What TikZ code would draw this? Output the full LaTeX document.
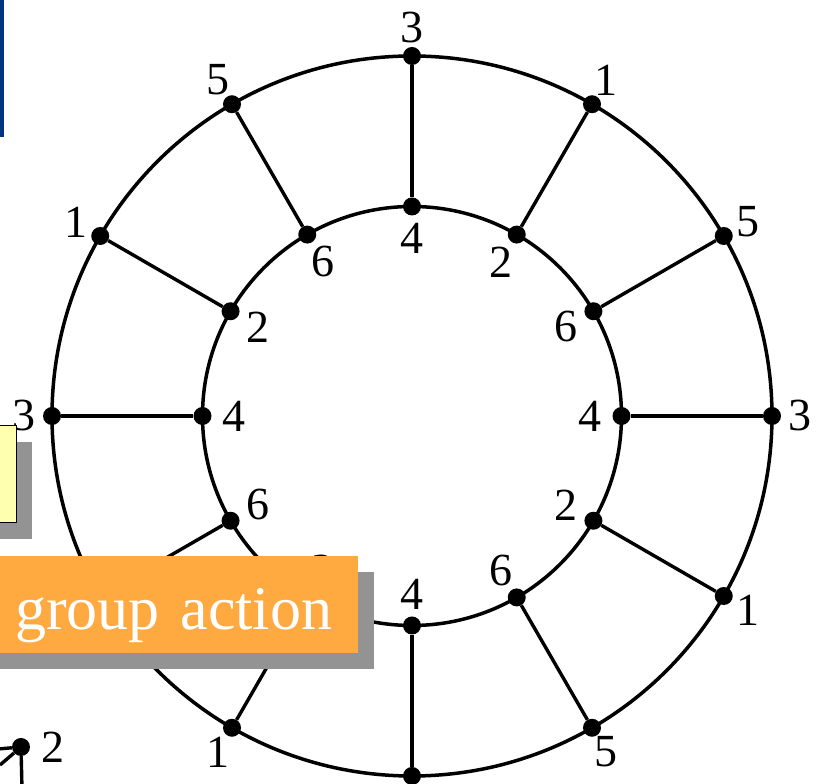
\documentclass[tikz,border=0pt]{standalone}
\usepackage{fontspec}
\setmainfont{Liberation Serif}
\usetikzlibrary{positioning, shadows}

\definecolor{navy}{RGB}{0,51,128}
\definecolor{notepaper}{RGB}{255,255,176}
\definecolor{tagorange}{RGB}{255,170,64}
\definecolor{shade}{RGB}{147,147,147}

\begin{document}
\begin{tikzpicture}[x=1pt, y=1pt,
    vertex/.style={circle, fill=black, inner sep=0pt, minimum size=18pt},
    num/.style={inner sep=0pt, font=\fontsize{46}{46}\selectfont},
    ring/.style={line width=3.5pt},
    spoke/.style={line width=3.4pt},
    boxshadow/.style={drop shadow={shadow xshift=16pt, shadow yshift=-16pt, fill=shade, opacity=1}}]
    \clip (0,0) rectangle (823,784);

    % Two rings joined by twelve spokes
    \begin{scope}[shift={(412,368)}]
        \coordinate (hub) at (0,0);
        \draw[ring] (hub) circle (360pt);
        \draw[ring] (hub) circle (209.5pt);
        \foreach \a/\o/\i [count=\k] in {90/3/4, 60/1/2, 30/5/6, 0/3/4, -30/1/2, -60/5/6,
                                          -90//4, -120/1/2, -150//6, 180/3/4, 150/1/2, 120/5/6}{
            \node[vertex] (out\k) at (\a:360) {};
            \node[vertex] (in\k) at (\a:209.5) {};
            \draw[spoke] (in\k) -- (out\k);
            \node[num] (outl\k) at (\a:388) {\o};
            \node[num] (inl\k) at (\a:178) {\i};
        }
    \end{scope}

    % Bits of other slides lying on top
    \fill[navy] (0,647) rectangle (4,784);
    \node[draw, line width=1pt, fill=notepaper, minimum width=40pt, minimum height=97pt,
          inner sep=0pt, boxshadow] (memo) at (-4,309.5) {};
    \node[fill=tagorange, text=white, font=\fontsize{62}{62}\selectfont,
          minimum width=398pt, minimum height=97pt, inner sep=0pt,
          text width=346pt, align=right,
          text height=74pt, text depth=23pt, boxshadow] (action) at (159,179.5) {group action};

    % Stray arrow in the corner
    \node[vertex] (stray) at (21,37) {};
    \node[num, right=11pt of stray] (strayl) {2};
    \coordinate (tail) at (0,19);
    \coordinate (barbh) at (-2,35);
    \coordinate (barbv) at (22,-5);
    \draw[spoke] (tail) -- (stray);
    \draw[spoke] (barbh) -- (stray);
    \draw[spoke] (stray) -- (barbv);
\end{tikzpicture}
\end{document}
